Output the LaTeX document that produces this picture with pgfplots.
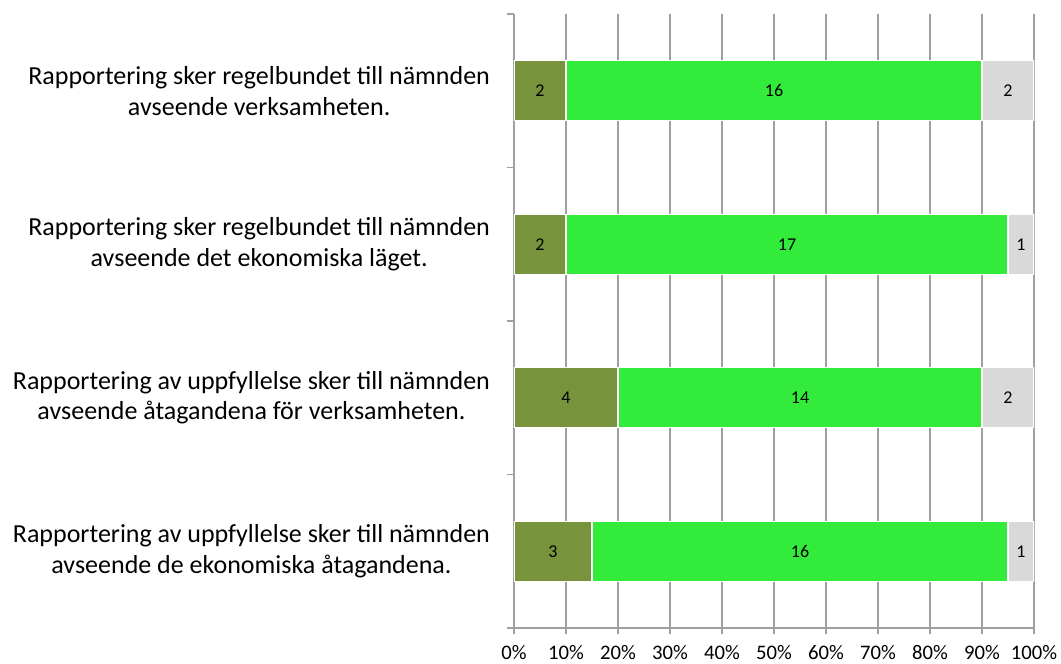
\documentclass[border=0pt]{standalone}
\usepackage{pgfplots}
\usepackage{pgfplotstable}
\pgfplotsset{compat=1.18}
\usepackage{fontspec}
\setmainfont{Carlito}
\definecolor{olive}{RGB}{119,147,60}
\definecolor{bright}{RGB}{51,235,59}
\definecolor{lgray}{RGB}{217,217,217}
\definecolor{gridc}{RGB}{160,160,160}
% y: 3 = top category
\pgfplotstableread{
y  pa  pb  pc  na nb nc
3  10  80  10  2  16 2
2  10  85  5   2  17 1
1  20  70  10  4  14 2
0  15  80  5   3  16 1
}\data
\begin{document}
\begin{tikzpicture}
\path[use as bounding box] (0,0) rectangle (795.75pt,498pt);
\begin{axis}[
  at={(385.5pt,27pt)}, anchor=south west,
  scale only axis, width=390pt, height=460.5pt,
  xbar stacked, bar width=0.39,
  xmin=0, xmax=100, ymin=-0.5, ymax=3.5,
  axis x line*=bottom, axis y line*=left,
  axis line style={gridc, line width=0.8pt},
  xtick={0,10,...,100},
  xticklabels={0\%,10\%,20\%,30\%,40\%,50\%,60\%,70\%,80\%,90\%,100\%},
  xmajorgrids, major grid style={gridc, line width=0.8pt},
  tick align=outside, major tick length=4.5pt, minor tick length=5.5pt,
  every tick/.style={gridc, line width=0.8pt},
  ytick={0,1,2,3},
  every major y tick/.style={draw=none},
  minor ytick={-0.5,0.5,1.5,2.5,3.5},
  yticklabels={
    {Rapportering av uppfyllelse sker till nämnden\\avseende de ekonomiska åtagandena.},
    {Rapportering av uppfyllelse sker till nämnden\\avseende åtagandena för verksamheten.},
    {Rapportering sker regelbundet till nämnden\\avseende det ekonomiska läget.},
    {Rapportering sker regelbundet till nämnden\\avseende verksamheten.}},
  y tick label style={align=center, font=\fontsize{19.5}{23}\selectfont, xshift=-10pt, text=black},
  x tick label style={font=\fontsize{15.5}{17}\selectfont, yshift=-5pt, text=black},
  point meta=explicit,
  /pgf/number format/assume math mode=true,
  nodes near coords,
  every node near coord/.append style={font=\fontsize{13.5}{15}\selectfont, anchor=center, text=black},
]
\addplot[fill=olive, draw=white, line width=0.8pt] table[x=pa, y=y, meta=na] {\data};
\addplot[fill=bright, draw=white, line width=0.8pt] table[x=pb, y=y, meta=nb] {\data};
\addplot[fill=lgray, draw=white, line width=0.8pt] table[x=pc, y=y, meta=nc] {\data};
\end{axis}
\end{tikzpicture}
\end{document}
